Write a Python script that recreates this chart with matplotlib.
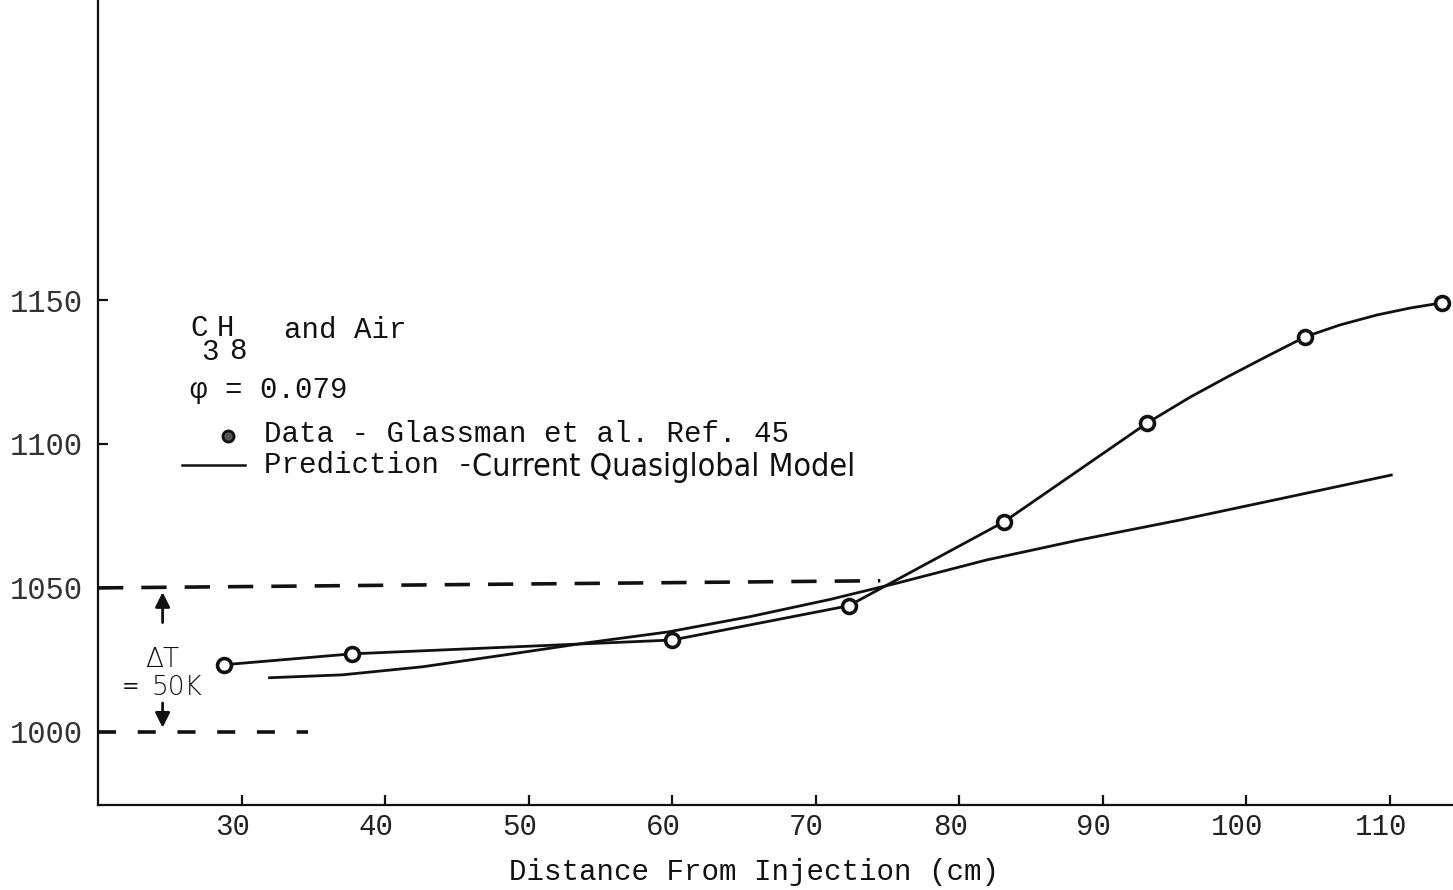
import matplotlib
matplotlib.use("Agg")
import matplotlib.pyplot as plt
import matplotlib.transforms as mtransforms

# measured data (Glassman et al.)
data_x = [28.75, 37.7, 60.0, 72.3, 83.1, 93.1, 104.1, 113.6]
data_y = [1023.3, 1027.1, 1031.9, 1043.8, 1072.9, 1107.3, 1137.2, 1149.0]

# hand drawn curve through the data
curve_x = [28.75, 37.7, 60.0, 72.3, 83.1, 93.1, 96.1, 98.8, 101.5, 104.1, 106.5, 109.1,
           111.4, 113.6]
curve_y = [1023.3, 1027.1, 1031.9, 1043.8, 1072.9, 1107.3, 1116.3, 1123.6, 1130.6, 1137.2,
           1141.3, 1144.8, 1147.2, 1149.0]

# quasiglobal model prediction
pred_x = [31.95, 37.0, 42.6, 48.3, 54.0, 59.7, 65.4, 71.0, 75.7, 81.9, 88.4, 95.4, 102.3,
          110.1]
pred_y = [1018.8, 1019.8, 1022.6, 1026.7, 1030.9, 1034.7, 1040.0, 1046.0, 1051.7, 1059.7,
          1066.7, 1073.6, 1080.9, 1089.2]

x_ticks = [30, 40, 50, 60, 70, 80, 90, 100, 110]
y_ticks = [1000, 1050, 1100, 1150]

W, H = 1453, 890
fig = plt.figure(figsize=(W / 100, H / 100), dpi=100)
ax = fig.add_axes([98 / W, 85 / H, 1355 / W, 805 / H])

mono = ["Liberation Mono", "DejaVu Sans Mono"]
ink = "#111111"

ax.plot(curve_x, curve_y, color=ink, lw=2.0, solid_joinstyle="round")
ax.plot(pred_x, pred_y, color=ink, lw=2.0, solid_joinstyle="round")
ax.plot(data_x, data_y, "o", ms=10, mfc="white", mec=ink, mew=2.6, ls="none")

# delta T reference lines
ax.plot([20.0, 74.5], [1050, 1052.5], color=ink, lw=2.6, dashes=(7, 5))
ax.plot([20.0, 34.6], [1000, 1000], color=ink, lw=2.6, dashes=(5, 6))
ax.annotate("", xy=(24.5, 1049.5), xytext=(24.5, 1037),
            arrowprops=dict(arrowstyle="-|>", color=ink, lw=2.0, mutation_scale=22))
ax.annotate("", xy=(24.5, 1000.5), xytext=(24.5, 1011),
            arrowprops=dict(arrowstyle="-|>", color=ink, lw=2.0, mutation_scale=22))
ax.text(24.5, 1025, "ΔT", ha="center", va="center", fontsize=19,
        family="DejaVu Sans", weight="light", color=ink)
ax.text(22.3, 1015.5, "=", ha="center", va="center", fontsize=15,
        family="DejaVu Sans", color=ink)
ax.text(23.7, 1015.5, "50K", ha="left", va="center", fontsize=19,
        family="DejaVu Sans", weight="light", color=ink)

# axes style
for s in ["top", "right"]:
    ax.spines[s].set_visible(False)
for s in ["left", "bottom"]:
    ax.spines[s].set_linewidth(1.6)
    ax.spines[s].set_color(ink)

ax.set_xticks(x_ticks)
ax.set_yticks(y_ticks)
ax.tick_params(axis="both", direction="in", length=7, width=1.6, colors=ink)
ax.tick_params(axis="y", pad=11, labelsize=22, labelcolor="#333333")
ax.tick_params(axis="x", pad=6, labelsize=21, labelcolor="#222222")
for lab in ax.get_xticklabels() + ax.get_yticklabels():
    lab.set_family(mono)
shift = mtransforms.ScaledTranslation(-9 / 100, 0, fig.dpi_scale_trans)
for lab in ax.get_xticklabels():
    lab.set_transform(lab.get_transform() + shift)

ax.set_xlabel("Distance From Injection (cm)", family=mono, fontsize=21, color=ink)
ax.xaxis.set_label_coords((754 - 98) / 1355, -(858 - 805) / 805)


def txt(px, py, s, **kw):
    opts = dict(family=mono, fontsize=21, color=ink, va="center", ha="left")
    opts.update(kw)
    fig.text(px / W, 1 - py / H, s, **opts)


# annotation block
txt(190, 328, "C")
txt(201, 352, "3")
txt(217, 328, "H")
txt(229, 351, "8")
txt(284, 330, "and Air")
txt(190, 390, "φ = 0.079")
fig.lines.append(plt.Line2D([228 / W], [1 - 436 / H], marker="o", ms=8, mfc="#555555",
                            mec=ink, mew=2, transform=fig.transFigure))
txt(264, 434, "Data - Glassman et al. Ref. 45")
fig.lines.append(plt.Line2D([182 / W, 245 / W], [1 - 465 / H, 1 - 465 / H], color=ink,
                            lw=1.8, transform=fig.transFigure))
txt(264, 465, "Prediction -")
txt(472, 467, "Current Quasiglobal Model", family="DejaVu Sans", fontsize=23,
    fontstretch="condensed", weight="medium")

ax.set_xlim(20.0, 114.4)
ax.set_ylim(974.6, 1254.2)
fig.savefig("out.png", dpi=100)
